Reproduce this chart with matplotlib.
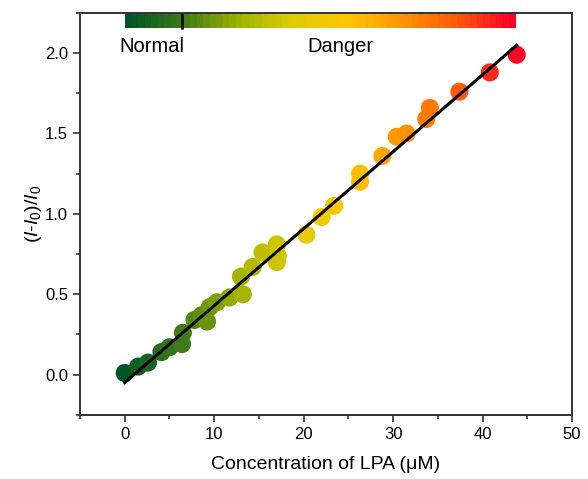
import numpy as np
import matplotlib
matplotlib.use('Agg')
import matplotlib.pyplot as plt
from matplotlib.colors import LinearSegmentedColormap, Normalize
from matplotlib.ticker import MultipleLocator

plt.rcParams['font.family'] = ['Liberation Sans', 'DejaVu Sans']
plt.rcParams['mathtext.fontset'] = 'custom'
plt.rcParams['mathtext.rm'] = 'Liberation Sans'
plt.rcParams['mathtext.it'] = 'Liberation Sans:italic'

# LPA concentration (uM) and response (I-I0)/I0
conc = [0, 1.5, 2.6, 4.1, 5.0, 6.4, 6.5, 7.8, 8.6, 9.2, 9.5, 10.3, 11.7,
        13.2, 13.0, 14.3, 15.4, 17.0, 17.1, 17.0, 20.3, 22.0, 23.4, 26.3,
        26.3, 28.8, 30.4, 31.5, 33.7, 34.1, 37.4, 40.8, 43.8]
resp = [0.01, 0.05, 0.075, 0.14, 0.17, 0.19, 0.26, 0.34, 0.37, 0.33, 0.42,
        0.45, 0.48, 0.50, 0.61, 0.67, 0.76, 0.81, 0.74, 0.70, 0.87, 0.98,
        1.05, 1.25, 1.20, 1.36, 1.48, 1.50, 1.59, 1.66, 1.76, 1.88, 1.99]

# linear fit
fit_slope = 0.0479
fit_intercept = -0.05
fit_range = [0, 43.8]

# colour scale
cmap_colors = [(0.0, 0.33, 0.15), (0.25, 0.48, 0.10), (0.62, 0.70, 0.0),
               (0.88, 0.80, 0.0), (1.0, 0.78, 0.0), (1.0, 0.58, 0.0),
               (1.0, 0.35, 0.05), (1.0, 0.0, 0.15)]
cmap = LinearSegmentedColormap.from_list('lpa', cmap_colors)
bar_range = [0, 43.6]
normal_limit = 6.4

fig = plt.figure(figsize=(5.88, 4.79), dpi=100)
ax = fig.add_axes([0.136, 0.134, 0.837, 0.839])

norm = Normalize(vmin=0, vmax=43.8)
ax.scatter(conc, resp, s=170, c=conc, cmap=cmap, norm=norm,
           edgecolors='none', zorder=2)

xf = np.array(fit_range)
ax.plot(xf, fit_slope * xf + fit_intercept, color='black', lw=2.2, zorder=3)

# gradient bar on top
grad = np.linspace(0, 1, 60).reshape(1, -1)
ax.imshow(grad, cmap=cmap, aspect='auto', interpolation='nearest',
          extent=[bar_range[0], bar_range[1], 2.155, 2.25], zorder=1)
ax.plot([normal_limit, normal_limit], [2.155, 2.25], color='black', lw=1.8,
        zorder=2)
ax.text(-0.6, 2.01, 'Normal', fontsize=14.5, ha='left', va='baseline')
ax.text(20.4, 2.01, 'Danger', fontsize=14.5, ha='left', va='baseline')

ax.set_xlim(-5, 50)
ax.set_ylim(-0.25, 2.25)
ax.xaxis.set_major_locator(MultipleLocator(10))
ax.xaxis.set_minor_locator(MultipleLocator(5))
ax.yaxis.set_major_locator(MultipleLocator(0.5))
ax.yaxis.set_minor_locator(MultipleLocator(0.25))
ax.yaxis.set_major_formatter(matplotlib.ticker.FormatStrFormatter('%.1f'))
ax.tick_params(which='both', direction='out', labelsize=12, color='#333333')
ax.tick_params(which='major', length=5, width=1.2)
ax.tick_params(which='minor', length=3, width=1.2)
for sp in ax.spines.values():
    sp.set_color('#333333')
    sp.set_linewidth(1.4)

ax.set_xlabel('Concentration of LPA (μM)', fontsize=14, labelpad=10)
ax.set_ylabel(r'($I$-$I_0$)/$I_0$', fontsize=14, labelpad=1)

fig.savefig('out.png', dpi=100)
